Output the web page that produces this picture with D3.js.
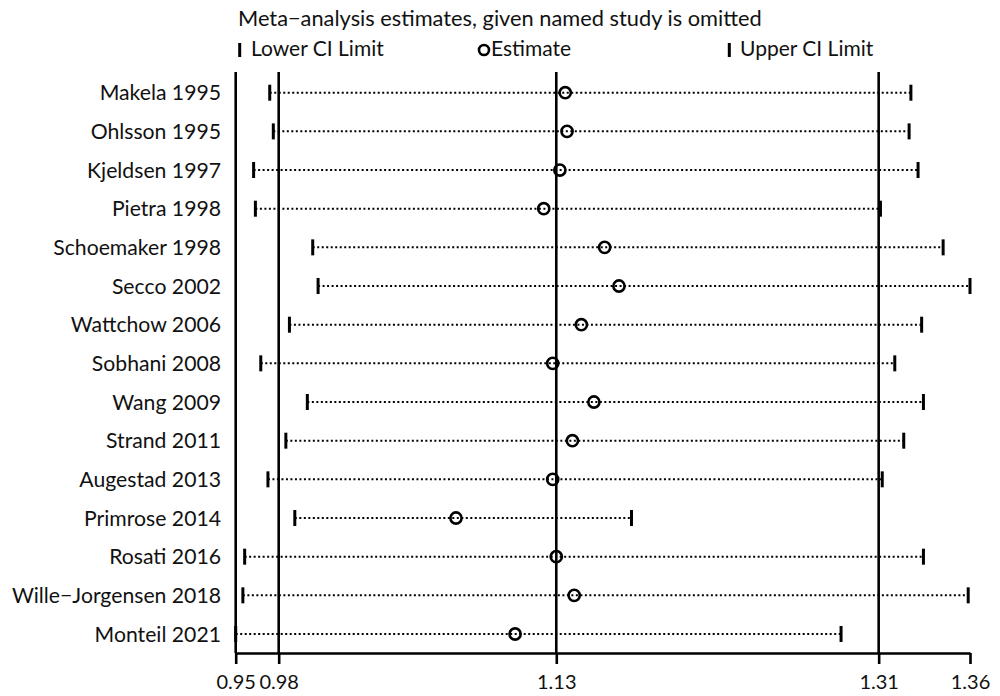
<!DOCTYPE html>
<html>
<head>
<meta charset="utf-8">
<script src="https://cdn.jsdelivr.net/npm/d3@7"></script>
<style>
body{margin:0;background:#fff}
text{font-family:Lato, sans-serif;fill:#111}
</style>
</head>
<body>
<div id="chart"></div>
<script>
var studies = ['Makela 1995','Ohlsson 1995','Kjeldsen 1997','Pietra 1998','Schoemaker 1998','Secco 2002','Wattchow 2006',
    'Sobhani 2008','Wang 2009','Strand 2011','Augestad 2013','Primrose 2014','Rosati 2016','Wille\u2212Jorgensen 2018','Monteil 2021']
var lower = [0.972,0.974,0.963,0.964,0.996,0.999,0.983,0.967,0.993,0.981,0.971,0.986,0.958,0.957,0.953]
var estimate = [1.137,1.138,1.134,1.125,1.159,1.167,1.146,1.130,1.153,1.141,1.130,1.076,1.132,1.142,1.109]
var upper = [1.330,1.329,1.334,1.313,1.348,1.363,1.336,1.321,1.337,1.326,1.314,1.174,1.337,1.362,1.291]
// min lower, overall lower CI, overall estimate, overall upper CI, max upper
var tickVals = [0.953,0.977,1.132,1.312,1.363]
var refLines = [0.953,0.977,1.132,1.312]
var title = 'Meta\u2212analysis estimates, given named study is omitted'
var legendLabels = ['Lower CI Limit','Estimate','Upper CI Limit']

var width = 1000, height = 696
var axisY = 653

var svg = d3.select('#chart')
    .append('svg')
    .attr('width',width)
    .attr('height',height)

var x_scale = d3.scaleLinear()
    .domain(d3.extent(tickVals))
    .range([235.7,970])
var y_scale = d3.scalePoint()
    .domain(studies)
    .range([92.7,634])

var rows = studies.map(function(s,i){
    return {name:s, lo:lower[i], est:estimate[i], hi:upper[i]}
})

svg.append('text')
    .attr('x',238)
    .attr('y',26)
    .style('font-size','21.8px')
    .text(title)

// legend
var lg = svg.append('g')
lg.append('line')
    .attr('x1',239.7).attr('x2',239.7).attr('y1',43).attr('y2',57)
    .attr('stroke','#000').attr('stroke-width',3)
lg.append('text').attr('x',251).attr('y',56).style('font-size','21px').text(legendLabels[0])
lg.append('circle')
    .attr('cx',484).attr('cy',50).attr('r',5)
    .attr('fill','none').attr('stroke','#000').attr('stroke-width',2.6)
lg.append('text').attr('x',491).attr('y',56).style('font-size','21px').text(legendLabels[1])
lg.append('line')
    .attr('x1',729.3).attr('x2',729.3).attr('y1',43).attr('y2',57)
    .attr('stroke','#000').attr('stroke-width',3)
lg.append('text').attr('x',740).attr('y',56).style('font-size','21px').text(legendLabels[2])

svg.selectAll('.ref')
    .data(refLines)
    .enter().append('line')
    .attr('class','ref')
    .attr('x1',d=>x_scale(d)).attr('x2',d=>x_scale(d))
    .attr('y1',72).attr('y2',axisY)
    .attr('stroke','#000').attr('stroke-width',2.6)

var X_AXIS = d3.axisBottom(x_scale)
    .tickValues(tickVals)
    .tickFormat(d3.format('.2f'))
    .tickSize(11)
    .tickSizeOuter(0)
    .tickPadding(11)

var ax = svg.append('g')
    .attr('transform',`translate(0,${axisY})`)
    .call(X_AXIS)
ax.select('.domain').attr('stroke','#000').attr('stroke-width',2.6)
ax.selectAll('.tick line').attr('stroke','#000').attr('stroke-width',2.6)
ax.selectAll('.tick text')
    .style('font-family','Lato, sans-serif')
    .style('font-size','20px')
    .attr('fill','#111')

svg.selectAll('.lab')
    .data(rows)
    .enter().append('text')
    .attr('class','lab')
    .attr('x',221)
    .attr('y',d=>y_scale(d.name))
    .attr('dy','0.36em')
    .attr('text-anchor','end')
    .style('font-size','21.2px')
    .text(d=>d.name)

svg.selectAll('.dots')
    .data(rows)
    .enter().append('line')
    .attr('class','dots')
    .attr('x1',d=>x_scale(d.lo)).attr('x2',d=>x_scale(d.hi))
    .attr('y1',d=>y_scale(d.name)).attr('y2',d=>y_scale(d.name))
    .attr('stroke','#000').attr('stroke-width',2)
    .attr('stroke-dasharray','2,2.5')

svg.selectAll('.lo')
    .data(rows)
    .enter().append('line')
    .attr('class','lo')
    .attr('x1',d=>x_scale(d.lo)).attr('x2',d=>x_scale(d.lo))
    .attr('y1',d=>y_scale(d.name)-8).attr('y2',d=>y_scale(d.name)+8)
    .attr('stroke','#000').attr('stroke-width',3)

svg.selectAll('.hi')
    .data(rows)
    .enter().append('line')
    .attr('class','hi')
    .attr('x1',d=>x_scale(d.hi)).attr('x2',d=>x_scale(d.hi))
    .attr('y1',d=>y_scale(d.name)-8).attr('y2',d=>y_scale(d.name)+8)
    .attr('stroke','#000').attr('stroke-width',3)

svg.selectAll('.est')
    .data(rows)
    .enter().append('circle')
    .attr('class','est')
    .attr('cx',d=>x_scale(d.est))
    .attr('cy',d=>y_scale(d.name))
    .attr('r',5.6)
    .attr('fill','none')
    .attr('stroke','#000')
    .attr('stroke-width',2.6)
</script>
</body>
</html>
